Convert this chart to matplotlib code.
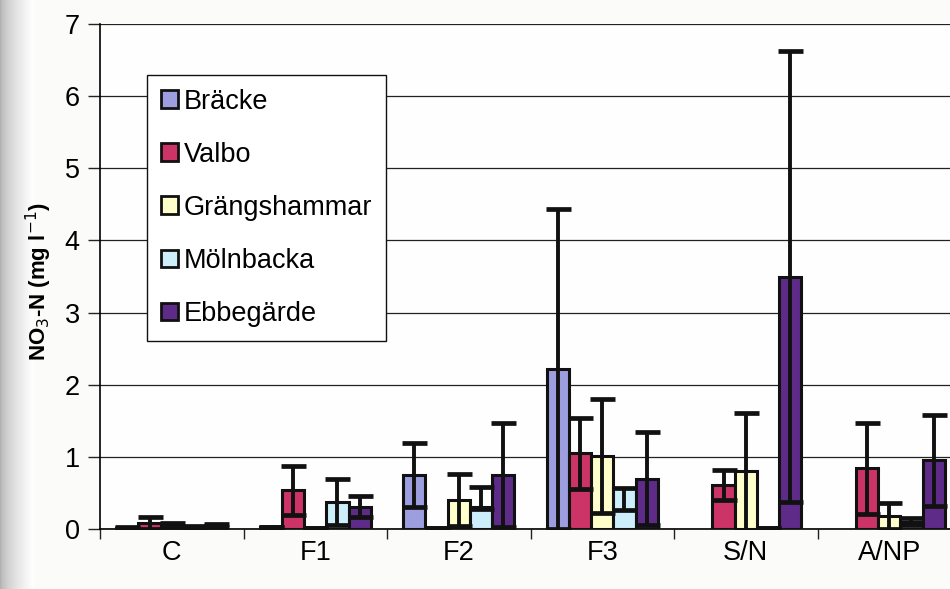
import numpy as np
import matplotlib.pyplot as plt
from matplotlib.patches import Patch

plt.rcParams['font.family'] = ['Liberation Sans', 'DejaVu Sans']

categories = ["C", "F1", "F2", "F3", "S/N", "A/NP"]
stations = ["Bräcke", "Valbo", "Grängshammar", "Mölnbacka", "Ebbegärde"]

# mean NO3-N per treatment, with error (lower / upper)
bracke = [0.02, 0.03, 0.75, 2.22, np.nan, np.nan]
bracke_err = [0.01, 0.0, 0.44, 2.22, 0.0, 0.0]
valbo = [0.08, 0.54, 0.02, 1.05, 0.61, 0.84]
valbo_err = [0.08, 0.34, 0.0, 0.49, 0.21, 0.63]
grang = [0.06, 0.02, 0.40, 1.01, 0.80, 0.18]
grang_err = [0.03, 0.0, 0.36, 0.79, 0.81, 0.18]
moln = [0.03, 0.38, 0.31, 0.57, 0.01, 0.10]
moln_err_lo = [0.01, 0.32, 0.03, 0.31, 0.0, 0.05]
moln_err_hi = [0.01, 0.32, 0.27, 0.0, 0.0, 0.05]
ebbe = [0.05, 0.31, 0.75, 0.70, 3.50, 0.95]
ebbe_err = [0.02, 0.15, 0.72, 0.65, 3.12, 0.63]

values = [bracke, valbo, grang, moln, ebbe]
err_lo = [bracke_err, valbo_err, grang_err, moln_err_lo, ebbe_err]
err_hi = [bracke_err, valbo_err, grang_err, moln_err_hi, ebbe_err]
colors = ["#9d9ee0", "#cc3366", "#ffffcc", "#cdeefb", "#5f2b88"]

fig = plt.figure(figsize=(9.5, 5.89), dpi=100, facecolor="#fbfbfa")

# scanner shadow along the left edge
shade = fig.add_axes([0, 0, 0.035, 1], zorder=-5)
grad = np.linspace(0, 1, 64)[None, :] ** 0.6
shade.imshow(grad, cmap="gray", vmin=-2.2, vmax=1.0, aspect="auto", extent=[0, 1, 0, 1])
shade.axis("off")

ax = fig.add_axes([100 / 950, 60 / 589, 861 / 950, 505 / 589])
ax.set_facecolor("#fefefe")

x = np.arange(len(categories))
w = 0.155
for i, (vals, lo, hi, col) in enumerate(zip(values, err_lo, err_hi, colors)):
    xpos = x + (i - 2) * w
    ax.bar(xpos, vals, width=w, color=col, edgecolor="#111111", linewidth=2.2, zorder=3)
    ax.errorbar(xpos, vals, yerr=[lo, hi], fmt="none", ecolor="#111111",
                elinewidth=2.8, capsize=9, capthick=3.4, zorder=4)

ax.set_xlim(-0.5, 5.5)
ax.set_ylim(0, 7)
ax.set_yticks(range(8))
ax.yaxis.grid(True, color="#222222", linewidth=0.9, zorder=0)
ax.set_axisbelow(True)

ax.set_xticks(x)
ax.set_xticklabels(categories)
ax.set_xticks(np.arange(-0.5, 6, 1), minor=True)
ax.tick_params(axis="x", which="major", length=0, pad=8, labelsize=19.5)
ax.tick_params(axis="x", which="minor", length=7, width=1, color="#222222")
ax.tick_params(axis="y", length=8.5, width=1, color="#222222", pad=6, labelsize=19.5)

for side in ["top", "right"]:
    ax.spines[side].set_visible(False)
ax.spines["left"].set_linewidth(1.2)
ax.spines["bottom"].set_linewidth(1.2)

ax.set_ylabel("NO$_3$-N (mg l$^{-1}$)", fontsize=16, fontweight="bold")
ax.yaxis.set_label_coords(-0.054, 0.49)

handles = [Patch(facecolor=c, edgecolor="#111111", linewidth=2) for c in colors]
leg = ax.legend(handles, stations, loc="upper left", bbox_to_anchor=(0.0546, 0.9),
                fontsize=19.5, frameon=True, fancybox=False, framealpha=1,
                edgecolor="#111111", handlelength=0.62, handleheight=0.62,
                handletextpad=0.22, labelspacing=1.0, borderpad=0.52,
                borderaxespad=0)
leg.get_frame().set_linewidth(1.0)

plt.savefig("out.png", dpi=100, facecolor=fig.get_facecolor())
